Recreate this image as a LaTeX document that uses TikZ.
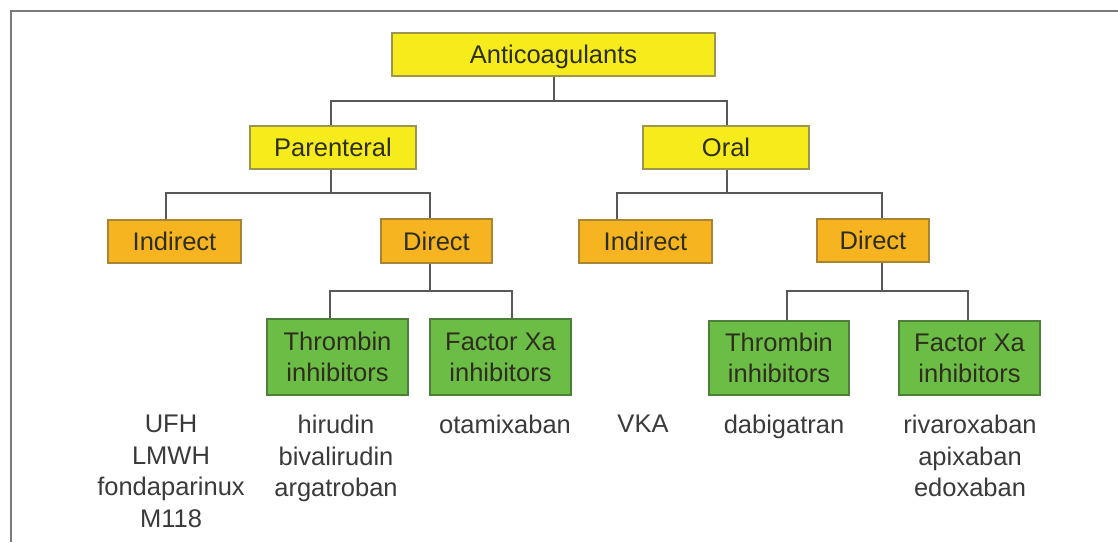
\documentclass[tikz,border=0pt]{standalone}
\usepackage{fontspec}
\setmainfont{Liberation Sans}
\definecolor{yfill}{HTML}{F6EC1C}
\definecolor{yline}{HTML}{9C9650}
\definecolor{ofill}{HTML}{F6B420}
\definecolor{oline}{HTML}{A88434}
\definecolor{gfill}{HTML}{6CBD46}
\definecolor{gline}{HTML}{4D7F3A}
\definecolor{boxtext}{HTML}{2E2E1E}
\definecolor{drugtext}{HTML}{3A3A3A}
\definecolor{linkc}{HTML}{585858}
\definecolor{framec}{HTML}{7A7A7A}
\tikzset{
  basebox/.style={rectangle, line width=1.3pt, inner sep=0pt, anchor=center,
    font=\fontsize{25.5}{31}\selectfont, text=boxtext},
  ybox/.style={basebox, fill=yfill, draw=yline, text height=18pt, text depth=0pt},
  obox/.style={basebox, fill=ofill, draw=oline, text height=18pt, text depth=0pt},
  gbox/.style={basebox, fill=gfill, draw=gline, align=center},
  drugs/.style={font=\fontsize{25.5}{31.5}\selectfont, text=drugtext, align=center,
    anchor=north, inner sep=0pt},
  link/.style={draw=linkc, line width=2pt},
  frameline/.style={draw=framec, line width=2.2pt}
}
\begin{document}
\begin{tikzpicture}[x=1pt,y=-1pt]
\useasboundingbox (0,0) rectangle (1118,542);
% frame
\coordinate (fa) at (11,542);
\coordinate (fb) at (11,11);
\coordinate (fc) at (1118,11);
\draw[frameline] (fa) -- (fb) -- (fc);

% boxes
\node[ybox, minimum width=323pt, minimum height=43pt] (anti) at (553.5,54.5) {Anticoagulants};
\node[ybox, minimum width=166pt, minimum height=43pt] (par) at (333,147.5) {Parenteral};
\node[ybox, minimum width=166pt, minimum height=43pt] (oral) at (726,147.5) {Oral};
\node[obox, minimum width=133pt, minimum height=43pt] (ind1) at (174.5,241.5) {Indirect};
\node[obox, minimum width=111pt, minimum height=44pt] (dir1) at (436.5,241) {Direct};
\node[obox, minimum width=133pt, minimum height=43pt] (ind2) at (645.5,241.5) {Indirect};
\node[obox, minimum width=112pt, minimum height=43pt] (dir2) at (873,240.5) {Direct};
\node[gbox, minimum width=141pt, minimum height=76pt] (thr1) at (337.5,357) {Thrombin\\inhibitors};
\node[gbox, minimum width=141pt, minimum height=76pt] (fxa1) at (500.5,357) {Factor Xa\\inhibitors};
\node[gbox, minimum width=140pt, minimum height=74pt] (thr2) at (779,358) {Thrombin\\inhibitors};
\node[gbox, minimum width=141pt, minimum height=74pt] (fxa2) at (969.5,358) {Factor Xa\\inhibitors};

% drug lists
\node[drugs] (d1) at (171,415) {UFH\\LMWH\\fondaparinux\\M118};
\node[drugs] (d2) at (336,415) {hirudin\\bivalirudin\\argatroban};
\node[drugs] (d3) at (505,415) {otamixaban};
\node[drugs] (d4) at (643,415) {VKA};
\node[drugs] (d5) at (784,415) {dabigatran};
\node[drugs] (d6) at (970,415) {rivaroxaban\\apixaban\\edoxaban};

% connectors
\coordinate (j0) at (553.5,101);
\coordinate (j1) at (331,193);
\coordinate (j2) at (726.5,193);
\coordinate (j3) at (430,291);
\coordinate (j4) at (882,291);

\draw[link] (anti.south) -- (j0);
\draw[link] (par.north -| 331,0) |- (j0) -| (oral.north -| 727,0);

\draw[link] (par.south -| 331,0) -- (j1);
\draw[link] (ind1.north -| 166,0) |- (j1) -| (dir1.north -| 430,0);

\draw[link] (oral.south -| 726.5,0) -- (j2);
\draw[link] (ind2.north -| 617,0) |- (j2) -| (dir2.north -| 882,0);

\draw[link] (dir1.south -| 430,0) -- (j3);
\draw[link] (thr1.north -| 330,0) |- (j3) -| (fxa1.north -| 512,0);

\draw[link] (dir2.south -| 882,0) -- (j4);
\draw[link] (thr2.north -| 787,0) |- (j4) -| (fxa2.north -| 968,0);
\end{tikzpicture}
\end{document}
